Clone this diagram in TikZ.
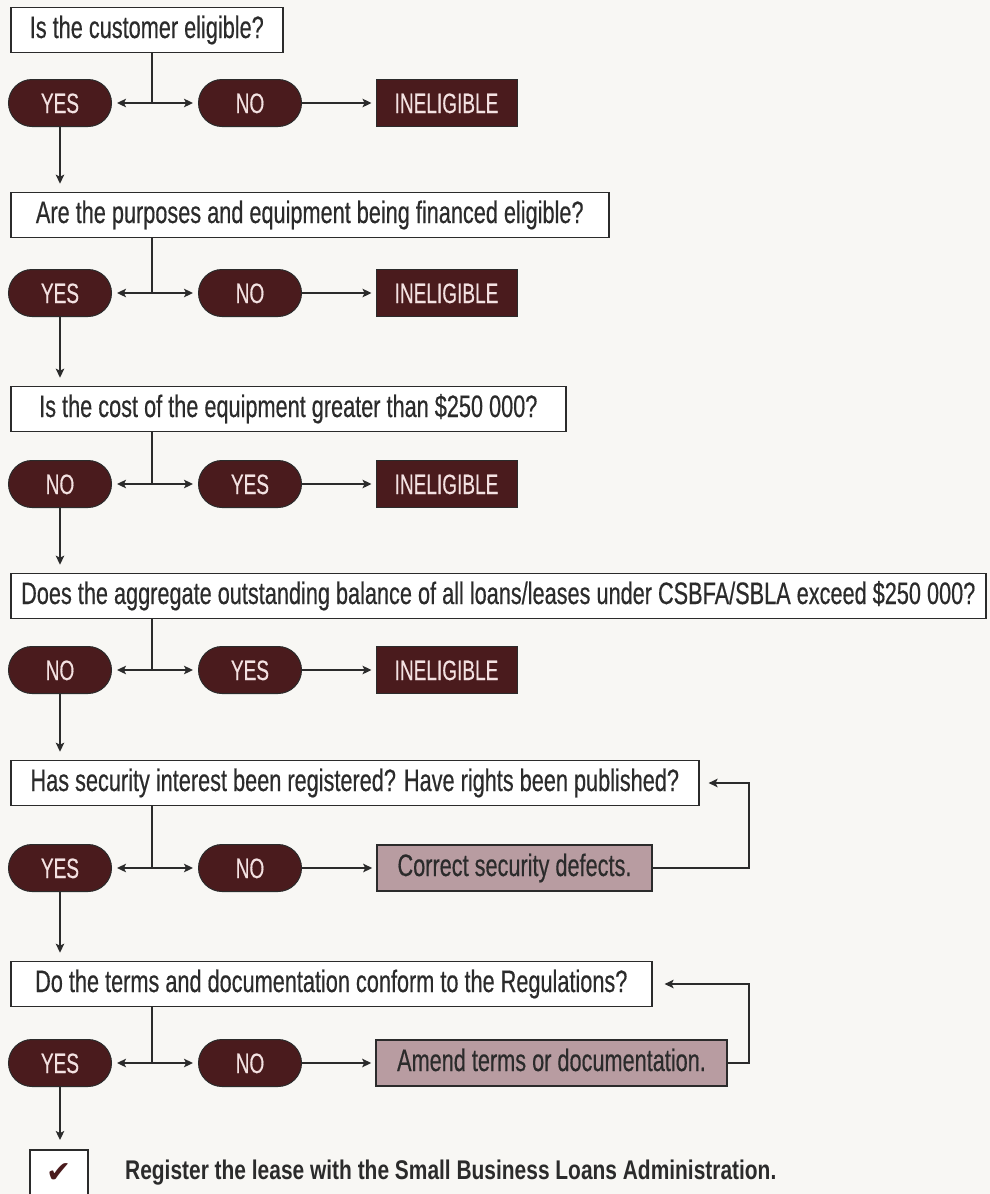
\documentclass[tikz,border=0pt]{standalone}
\usepackage{fontspec}
\setmainfont{Liberation Sans}
\newfontfamily\qfont{Liberation Sans}[FakeStretch=0.70,FakeBold=0.4]
\newfontfamily\pfont{Liberation Sans}[FakeStretch=0.68,FakeBold=0.3]
\newfontfamily\bfont{Liberation Sans Bold}[FakeStretch=0.775]
\newfontfamily\symbolfont{DejaVu Sans}
\usetikzlibrary{arrows.meta,shapes.misc}

\definecolor{maroon}{HTML}{4A1B1D}
\definecolor{pilltext}{HTML}{F3E1E1}
\definecolor{mauve}{HTML}{B89CA1}
\definecolor{ink}{HTML}{2B2B2B}
\definecolor{paper}{HTML}{F8F7F4}

\tikzset{
  question/.style={rectangle, draw=ink, line width=1.6pt, fill=white, text=ink,
    anchor=west, minimum height=45pt, inner sep=0pt,
    font=\qfont\fontsize{31}{34}\selectfont, text height=22pt, text depth=6pt},
  pill/.style={rounded rectangle, draw=ink, line width=1pt, fill=maroon,
    text=pilltext, minimum width=103pt, minimum height=47pt, inner sep=0pt,
    font=\pfont\fontsize{28}{30}\selectfont, text height=20pt, text depth=0pt},
  outcome/.style={rectangle, draw=ink, line width=1pt, fill=maroon,
    text=pilltext, minimum width=141pt, minimum height=47pt, inner sep=0pt,
    font=\pfont\fontsize{28}{30}\selectfont, text height=20pt, text depth=0pt},
  fixbox/.style={rectangle, draw=ink, line width=1.6pt, fill=mauve, text=ink,
    minimum height=46pt, inner sep=0pt,
    font=\qfont\fontsize{31}{34}\selectfont, text height=22pt, text depth=6pt},
  wire/.style={draw=ink, line width=1.5pt},
  link/.style={wire, -{Stealth[length=9pt,width=8.5pt,inset=2pt]}},
}

\begin{document}
\begin{tikzpicture}[x=1pt,y=-1pt]
  \fill[paper] (0,0) rectangle (990,1194);
  \useasboundingbox (0,0) rectangle (990,1194);

  % ---- questions ----
  \node[question, minimum width=272pt] (q1) at (10,30)  {Is the customer eligible?};
  \node[question, minimum width=598pt] (q2) at (10,215) {Are the purposes and equipment being financed eligible?};
  \node[question, minimum width=555pt] (q3) at (10,409) {Is the cost of the equipment greater than \$250 000?};
  \node[question, minimum width=975pt] (q4) at (10,596) {Does the aggregate outstanding balance of all loans/leases under CSBFA/SBLA exceed \$250 000?};
  \node[question, minimum width=688pt] (q5) at (10,783) {Has security interest been registered? Have rights been published?};
  \node[question, minimum width=641pt] (q6) at (10,984) {Do the terms and documentation conform to the Regulations?};

  % ---- answers ----
  \node[pill] (a1) at (60,103)  {YES};  \node[pill] (b1) at (250,103)  {NO};
  \node[pill] (a2) at (60,293)  {YES};  \node[pill] (b2) at (250,293)  {NO};
  \node[pill] (a3) at (60,484)  {NO};   \node[pill] (b3) at (250,484)  {YES};
  \node[pill] (a4) at (60,670)  {NO};   \node[pill] (b4) at (250,670)  {YES};
  \node[pill] (a5) at (60,868)  {YES};  \node[pill] (b5) at (250,868)  {NO};
  \node[pill] (a6) at (60,1063) {YES};  \node[pill] (b6) at (250,1063) {NO};

  % ---- results of a negative answer ----
  \node[outcome] (o1) at (446.5,103) {INELIGIBLE};
  \node[outcome] (o2) at (446.5,293) {INELIGIBLE};
  \node[outcome] (o3) at (446.5,484) {INELIGIBLE};
  \node[outcome] (o4) at (446.5,670) {INELIGIBLE};
  \node[fixbox, minimum width=275pt] (f5) at (514.5,868) {Correct security defects.};
  \node[fixbox, minimum width=351pt] (f6) at (551.5,1063) {Amend terms or documentation.};

  % ---- final step ----
  \node[rectangle, draw=ink, line width=1.6pt, fill=white, anchor=north,
        minimum width=58pt, minimum height=62pt] (ok) at (59,1149) {};
  \node[text=maroon, font=\symbolfont\fontsize{30}{32}\selectfont] (tick) at (59,1173) {✔};
  \node[anchor=west, text=ink, inner sep=0pt,
        font=\bfont\fontsize{27}{30}\selectfont] (reg) at (125,1173)
        {Register the lease with the Small Business Loans Administration.};

  % ---- branching under each question ----
  \foreach \i/\y in {1/103,2/293,3/484,4/670,5/868,6/1063}{
    \coordinate (j\i) at (152,\y);
    \draw[wire] (q\i.south -| j\i) -- (j\i);
    \draw[link, shorten >=5pt] (j\i) -- (a\i.east);
    \draw[link, shorten >=5pt] (j\i) -- (b\i.west);
  }
  \foreach \i in {1,2,3,4}{
    \draw[link, shorten >=4pt] (b\i.east) -- (o\i.west);
  }
  \draw[link, shorten >=4pt] (b5.east) -- (f5.west);
  \draw[link, shorten >=4pt] (b6.east) -- (f6.west);

  % ---- continuing downwards ----
  \draw[link, shorten >=8pt] (a1.south) -- (a1.south |- q2.north);
  \draw[link, shorten >=8pt] (a2.south) -- (a2.south |- q3.north);
  \draw[link, shorten >=8pt] (a3.south) -- (a3.south |- q4.north);
  \draw[link, shorten >=8pt] (a4.south) -- (a4.south |- q5.north);
  \draw[link, shorten >=8pt] (a5.south) -- (a5.south |- q6.north);
  \draw[link, shorten >=9pt] (a6.south) -- (a6.south |- ok.north);

  % ---- loops back after a correction ----
  \coordinate (r5) at (749,868);
  \coordinate (r6) at (749,1063);
  \draw[link, shorten >=9pt] (f5.east) -- (r5) |- (q5.east);
  \draw[link, shorten >=12pt] (f6.east) -- (r6) |- (q6.east);
\end{tikzpicture}
\end{document}
